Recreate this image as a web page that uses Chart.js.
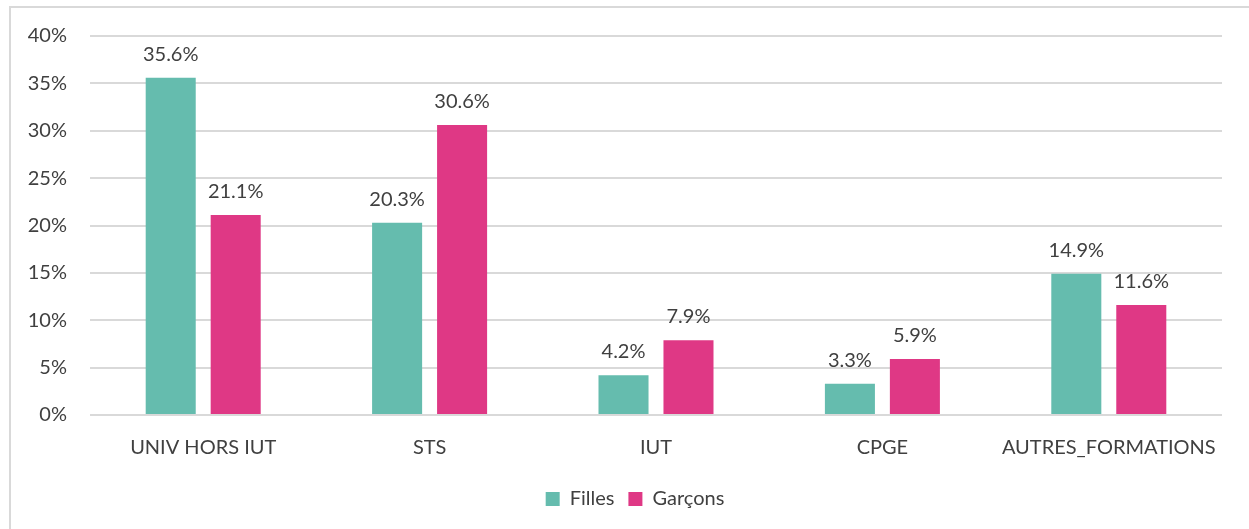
<!DOCTYPE html>
<html>
<head>
<meta charset="utf-8">
<script src="https://cdn.jsdelivr.net/npm/chart.js@4/dist/chart.umd.min.js"></script>
<style>
  html, body { margin: 0; padding: 0; background: #fff; overflow: hidden; }
  #frame { position: absolute; left: 9px; top: 6px; width: 1300px; height: 600px; border: 2px solid #d9d9d9; box-sizing: border-box; }
  #wrap { position: absolute; left: 0; top: 0; width: 1249px; height: 529px; }
</style>
</head>
<body>
<div id="frame"></div>
<div id="wrap"><canvas id="c" width="1249" height="529"></canvas></div>
<script>
const categories = ["UNIV HORS IUT", "STS", "IUT", "CPGE", "AUTRES_FORMATIONS"];
const filles = [35.6, 20.3, 4.2, 3.3, 14.9];
const garcons = [21.1, 30.6, 7.9, 5.9, 11.6];
const seriesNames = ["Filles", "Garçons"];
const yTicks = [0, 5, 10, 15, 20, 25, 30, 35, 40];

const FONT = "Lato, 'Open Sans', sans-serif";
const FS = 20;
const TXT = "#404040";

const valueLabels = {
  id: "valueLabels",
  afterDatasetsDraw(chart) {
    const ctx = chart.ctx;
    ctx.save();
    ctx.font = FS + "px " + FONT;
    ctx.fillStyle = TXT;
    ctx.textAlign = "center";
    ctx.textBaseline = "alphabetic";
    chart.data.datasets.forEach((ds, i) => {
      chart.getDatasetMeta(i).data.forEach((bar, j) => {
        ctx.fillText(ds.data[j].toFixed(1) + "%", bar.x, bar.y - 17);
      });
    });
    ctx.restore();
  }
};

const legendShift = {
  id: "legendShift",
  afterLayout(chart) {
    if (chart.legend) { chart.legend.left += 24; chart.legend.right += 24; }
  }
};

new Chart(document.getElementById("c"), {
  type: "bar",
  data: {
    labels: categories,
    datasets: [
      { label: seriesNames[0], data: filles, backgroundColor: "#65bcae", borderWidth: 0 },
      { label: seriesNames[1], data: garcons, backgroundColor: "#df3885", borderWidth: 0 }
    ]
  },
  options: {
    responsive: false,
    animation: false,
    devicePixelRatio: 1,
    layout: { padding: { top: 36, right: 27, bottom: 10, left: 0 } },
    datasets: { bar: { categoryPercentage: 0.574, barPercentage: 0.77 } },
    plugins: {
      tooltip: { enabled: false },
      legend: {
        position: "bottom",
        labels: {
          font: { family: FONT, size: FS },
          color: TXT,
          boxWidth: 14,
          boxHeight: 14,
          padding: 14
        }
      }
    },
    scales: {
      x: {
        grid: { display: false, drawTicks: false },
        border: { display: false },
        ticks: { font: { family: FONT, size: FS }, color: TXT, padding: 21, maxRotation: 0 },
        afterFit(s) { s.height = 60; }
      },
      y: {
        min: 0, max: 40,
        afterBuildTicks(s) { s.ticks = yTicks.map(v => ({ value: v })); },
        grid: { color: "#d9d9d9", lineWidth: 2, drawTicks: false },
        border: { display: false },
        ticks: { font: { family: FONT, size: FS }, color: TXT, padding: 23, callback: v => v + "%" },
        afterFit(s) { s.width = 90; }
      }
    }
  },
  plugins: [valueLabels, legendShift]
});
</script>
</body>
</html>
